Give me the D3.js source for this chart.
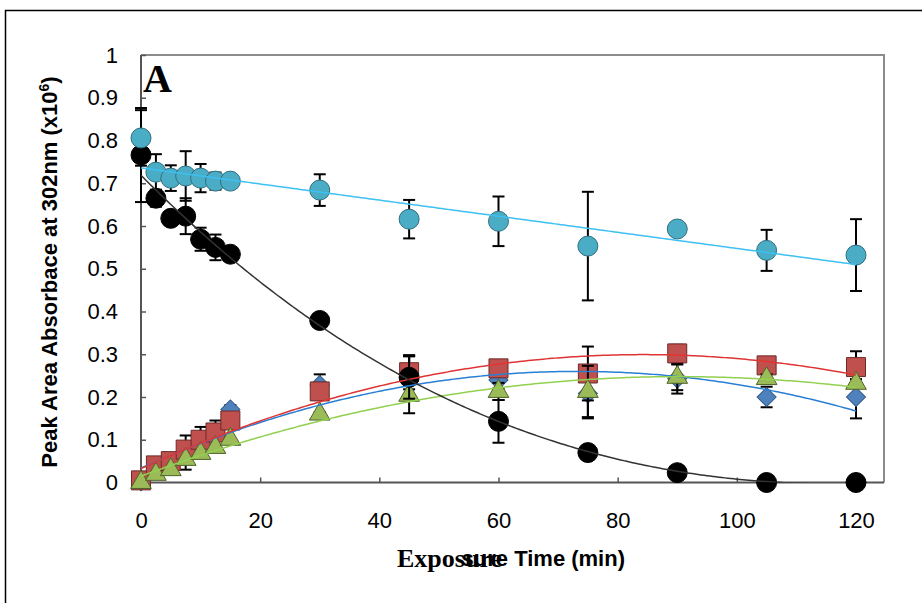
<!DOCTYPE html>
<html>
<head>
<meta charset="utf-8">
<script src="https://cdn.jsdelivr.net/npm/d3@7"></script>
<style>
  body { margin: 0; background: #fff; }
  svg { display: block; }
</style>
</head>
<body>
<div id="chart"></div>
<script>
/*
Peak area vs exposure time, 5 series with error bars and trendlines
 */

var times = [0, 2.5, 5, 7.5, 10, 12.5, 15, 30, 45, 60, 75, 90, 105, 120];

var cyanVals  = [0.806, 0.726, 0.712, 0.717, 0.712, 0.705, 0.705, 0.684, 0.616, 0.611, 0.553, 0.593, 0.543, 0.532];
var cyanErr   = [0.065, 0.042, 0.030, 0.058, 0.033, 0.020, 0, 0.037, 0.045, 0.058, 0.127, 0.015, 0.048, 0.084];

var blackVals = [0.766, 0.665, 0.618, 0.623, 0.569, 0.550, 0.534, 0.379, 0.246, 0.143, 0.070, 0.023, 0.0, 0.0];
var blackErr  = [0.110, 0.020, 0, 0.042, 0.027, 0.030, 0, 0.012, 0.050, 0.050, 0, 0, 0, 0];

var redVals   = [0.005, 0.040, 0.050, 0.077, 0.100, 0.117, 0.145, 0.213, 0.258, 0.267, 0.255, 0.302, 0.274, 0.270];
var redErr    = [0, 0.005, 0.005, 0.005, 0.030, 0.028, 0.010, 0.020, 0.040, 0.010, 0.063, 0.020, 0.010, 0.037];

var blueVals  = [0.003, 0.035, 0.045, 0.070, 0.090, 0.110, 0.171, 0.228, 0.245, 0.240, 0.208, 0.243, 0.200, 0.200];
var blueErr   = [0, 0, 0, 0.040, 0.010, 0.010, 0.010, 0.025, 0.050, 0.020, 0.058, 0.035, 0.024, 0.050];

var greenVals = [0.000, 0.019, 0.030, 0.054, 0.068, 0.082, 0.101, 0.160, 0.204, 0.213, 0.213, 0.246, 0.243, 0.232];
var greenErr  = [0, 0, 0, 0, 0, 0, 0, 0.005, 0.042, 0.020, 0.060, 0.030, 0.010, 0.010];

var xTicks = [0, 20, 40, 60, 80, 100, 120];
var yTicks = [0, 0.1, 0.2, 0.3, 0.4, 0.5, 0.6, 0.7, 0.8, 0.9, 1];

var width = 923, height = 603;
var plotLeft = 141, plotRight = 884, plotTop = 55, plotBottom = 482.5;

var svg = d3.select("#chart")
    .append("svg")
    .attr("width", width)
    .attr("height", height);

// outer frame (only top and left edges show)
svg.append("path")
    .attr("d", "M5.5,603V10.5H922")
    .style("fill", "none")
    .style("stroke", "#000")
    .style("stroke-width", 1.5);

var x = d3.scaleLinear().domain([0, 124.7]).range([plotLeft, plotRight]);
var y = d3.scaleLinear().domain([0, 1]).range([plotBottom, plotTop]);

// plot frame
svg.append("path")
    .attr("d", "M" + plotLeft + "," + plotTop + "H" + plotRight + "V" + plotBottom)
    .style("fill", "none")
    .style("stroke", "#8c8c8c")
    .style("stroke-width", 2);

// axes
var yAxis = svg.append("g")
    .attr("transform", "translate(" + plotLeft + ",0)")
    .call(d3.axisLeft(y).tickValues(yTicks).tickSizeInner(-5).tickSizeOuter(0)
        .tickPadding(23).tickFormat(function(d) { return String(+d.toFixed(1)); }));

var xAxis = svg.append("g")
    .attr("transform", "translate(0," + plotBottom + ")")
    .call(d3.axisBottom(x).tickValues(xTicks).tickSizeInner(-5).tickSizeOuter(0)
        .tickPadding(30));

[xAxis, yAxis].forEach(function(ax) {
    ax.select(".domain").style("stroke", "#555").style("stroke-width", 2);
    ax.selectAll(".tick line").style("stroke", "#555").style("stroke-width", 1.5);
    ax.selectAll("text")
        .style("font-family", "Arial, 'Liberation Sans', sans-serif")
        .style("font-size", "22px")
        .style("fill", "#000");
});
xAxis.select(".domain").attr("d", "M" + plotLeft + ",0H" + plotRight);
yAxis.select(".domain").attr("d", "M0," + plotBottom + "V" + plotTop);

// series setup, listed in drawing order
var series = [
    { vals: blueVals,  err: blueErr,  shape: "diamond",  fill: "#4F81BD", stroke: "#385d8a", line: "#2a7fd4", order: 2 },
    { vals: redVals,   err: redErr,   shape: "square",   fill: "#C0504D", stroke: "#6b2a28", line: "#e03434", order: 2 },
    { vals: greenVals, err: greenErr, shape: "triangle", fill: "#9BBB59", stroke: "#4f6228", line: "#92d050", order: 2 },
    { vals: blackVals, err: blackErr, shape: "circle",   fill: "#000000", stroke: "#000000", line: "#333333", order: 3 },
    { vals: cyanVals,  err: cyanErr,  shape: "circle",   fill: "#4BACC6", stroke: "#2f6f80", line: "#3ec0f2", order: 1 }
];

function markerPath(shape) {
    if (shape === "square") return d3.symbol(d3.symbolSquare, 361)();
    if (shape === "triangle") return d3.symbol(d3.symbolTriangle, 185)();
    if (shape === "diamond") return d3.symbol(d3.symbolSquare, 182)();
    return d3.symbol(d3.symbolCircle, Math.PI * 100)();
}

series.forEach(function(s) {
    var pts = times.map(function(t, i) { return { t: t, v: s.vals[i], e: s.err[i] }; });
    var g = svg.append("g");

    var eb = g.selectAll(".err")
        .data(pts.filter(function(d) { return d.e > 0; }))
        .enter().append("g")
        .style("stroke", "#000")
        .style("stroke-width", 2);
    eb.append("line")
        .attr("x1", function(d) { return x(d.t); })
        .attr("x2", function(d) { return x(d.t); })
        .attr("y1", function(d) { return y(d.v - d.e); })
        .attr("y2", function(d) { return y(d.v + d.e); });
    eb.append("line")
        .attr("x1", function(d) { return x(d.t) - 6; })
        .attr("x2", function(d) { return x(d.t) + 6; })
        .attr("y1", function(d) { return y(d.v + d.e); })
        .attr("y2", function(d) { return y(d.v + d.e); });
    eb.append("line")
        .attr("x1", function(d) { return x(d.t) - 6; })
        .attr("x2", function(d) { return x(d.t) + 6; })
        .attr("y1", function(d) { return y(d.v - d.e); })
        .attr("y2", function(d) { return y(d.v - d.e); });

    g.selectAll(".mk")
        .data(pts)
        .enter().append("path")
        .attr("d", markerPath(s.shape))
        .attr("transform", function(d) {
            return "translate(" + x(d.t) + "," + y(d.v) + ")" + (s.shape === "diamond" ? " rotate(45)" : "");
        })
        .style("fill", s.fill)
        .style("stroke", s.stroke)
        .style("stroke-width", 1);
});

// least squares polynomial fit (Excel style trendline)
function polyfit(xs, ys, order) {
    var n = order + 1;
    var A = [];
    for (var i = 0; i < n; i++) { A.push(new Array(n + 1).fill(0)); }
    xs.forEach(function(xv, k) {
        for (var i = 0; i < n; i++) {
            for (var j = 0; j < n; j++) { A[i][j] += Math.pow(xv, i + j); }
            A[i][n] += ys[k] * Math.pow(xv, i);
        }
    });
    for (var c = 0; c < n; c++) {
        var p = c;
        for (var r = c + 1; r < n; r++) { if (Math.abs(A[r][c]) > Math.abs(A[p][c])) p = r; }
        var tmp = A[c]; A[c] = A[p]; A[p] = tmp;
        for (var r2 = 0; r2 < n; r2++) {
            if (r2 === c) continue;
            var f = A[r2][c] / A[c][c];
            for (var k2 = c; k2 <= n; k2++) { A[r2][k2] -= f * A[c][k2]; }
        }
    }
    return A.map(function(row, i) { return row[n] / row[i]; });
}

svg.append("clipPath").attr("id", "plotclip")
    .append("rect")
    .attr("x", plotLeft).attr("y", plotTop)
    .attr("width", plotRight - plotLeft).attr("height", plotBottom - plotTop);

var trendX = d3.range(0, 120.001, 0.5);
series.forEach(function(s) {
    var coef = polyfit(times, s.vals, s.order);
    var line = d3.line()
        .x(function(t) { return x(t); })
        .y(function(t) {
            var v = 0;
            coef.forEach(function(c, i) { v += c * Math.pow(t, i); });
            return y(v);
        });
    svg.append("path")
        .datum(trendX)
        .attr("clip-path", "url(#plotclip)")
        .attr("d", line)
        .style("fill", "none")
        .style("stroke", s.line)
        .style("stroke-width", 1.5);
});

// panel letter
svg.append("text")
    .attr("x", 143)
    .attr("y", 92)
    .style("font-family", "'Times New Roman', 'Liberation Serif', serif")
    .style("font-weight", "bold")
    .style("font-size", "40px")
    .text("A");

// y axis title
var yTitle = svg.append("text")
    .attr("transform", "translate(57,272) rotate(-90)")
    .attr("text-anchor", "middle")
    .style("font-family", "Arial, 'Liberation Sans', sans-serif")
    .style("font-weight", "bold")
    .style("font-size", "22px");
yTitle.append("tspan").text("Peak Area Absorbace at 302nm (x10");
yTitle.append("tspan").attr("dy", -8).style("font-size", "14px").text("6");
yTitle.append("tspan").attr("dy", 8).text(")");

// x axis title, with the overlapping serif word
svg.append("text")
    .attr("x", 625)
    .attr("y", 566)
    .attr("text-anchor", "end")
    .style("font-family", "Arial, 'Liberation Sans', sans-serif")
    .style("font-weight", "bold")
    .style("font-size", "22px")
    .text("Exposure Time (min)");

svg.append("rect")
    .attr("x", 395).attr("y", 544)
    .attr("width", 66).attr("height", 30)
    .style("fill", "#fff");

svg.append("text")
    .attr("x", 397)
    .attr("y", 567)
    .style("font-family", "'Times New Roman', 'Liberation Serif', serif")
    .style("font-weight", "bold")
    .style("font-size", "26px")
    .text("Exposure");
</script>
</body>
</html>
